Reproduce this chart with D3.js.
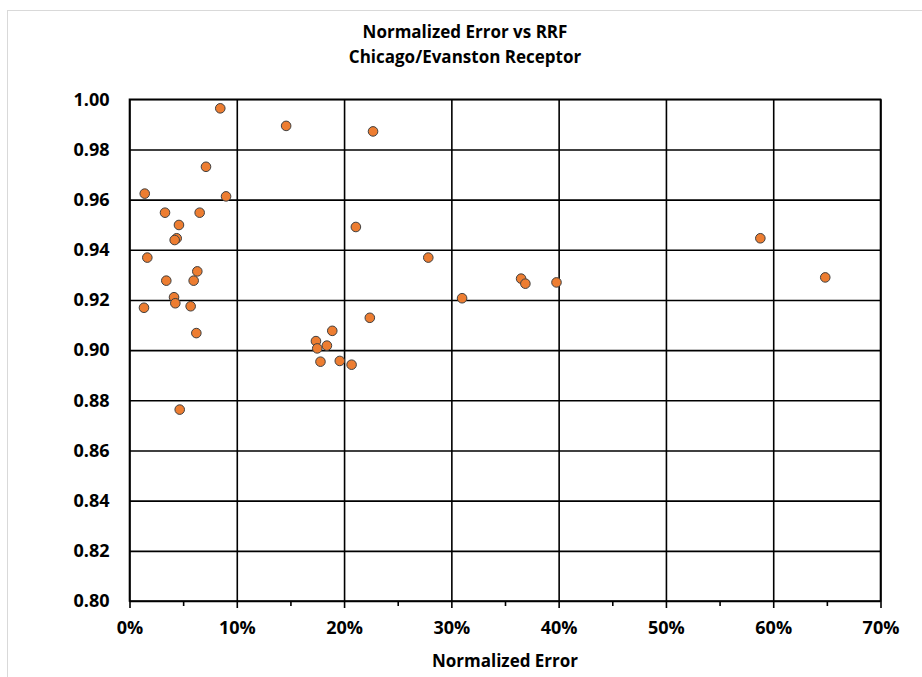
<!DOCTYPE html>
<html>
<head>
<meta charset="utf-8">
<script src="https://cdn.jsdelivr.net/npm/d3@7"></script>
<style>
  body { margin: 0; background: #fff; }
  text { font-family: "Open Sans", "Noto Sans", sans-serif; font-weight: bold; fill: #000; }
</style>
</head>
<body>
<svg id="chart" width="922" height="677"></svg>
<script>
// normalized error (fraction) and RRF for each monitor day
var normError = [0.0846, 0.146, 0.227, 0.0713, 0.0142, 0.090, 0.0331, 0.0654, 0.0461, 0.044,
  0.0421, 0.211, 0.0166, 0.0632, 0.0343, 0.0598, 0.0415, 0.0427, 0.0135, 0.0570,
  0.0623, 0.224, 0.189, 0.1738, 0.184, 0.175, 0.178, 0.196, 0.207, 0.0468,
  0.2785, 0.365, 0.369, 0.398, 0.310, 0.588, 0.6485];
var rrf = [0.9964, 0.9894, 0.9872, 0.9731, 0.9624, 0.9613, 0.9548, 0.9548, 0.9499, 0.9446,
  0.9439, 0.9491, 0.9369, 0.9314, 0.9277, 0.9277, 0.9211, 0.9187, 0.9169, 0.9175,
  0.9068, 0.9129, 0.9077, 0.9036, 0.9018, 0.9007, 0.8954, 0.8957, 0.8942, 0.8763,
  0.9369, 0.9285, 0.9265, 0.9270, 0.9207, 0.9446, 0.9290];
var xTicks = [0, 0.1, 0.2, 0.3, 0.4, 0.5, 0.6, 0.7];
var xMinorTicks = [0.05, 0.15, 0.25, 0.35, 0.45, 0.55, 0.65];
var yTicks = [0.80, 0.82, 0.84, 0.86, 0.88, 0.90, 0.92, 0.94, 0.96, 0.98, 1.00];
var titleLines = ["Normalized Error vs RRF", "Chicago/Evanston Receptor"];

var svg = d3.select("#chart"),
  width = +svg.attr("width"),
  height = +svg.attr("height"),
  margin = { top: 99.3, right: 41.5, bottom: 76, left: 129.5 },
  plotW = width - margin.left - margin.right,
  plotH = height - margin.top - margin.bottom;

// chart area border (light grey, cut by the picture edge)
svg.append("rect")
  .attr("x", 7.5).attr("y", 10.5)
  .attr("width", 930).attr("height", 700)
  .attr("fill", "none")
  .attr("stroke", "#d9d9d9");

svg.selectAll("text.title")
  .data(titleLines)
  .enter().append("text")
  .attr("class", "title")
  .attr("x", 465)
  .attr("y", function (d, i) { return 38 + i * 25; })
  .attr("text-anchor", "middle")
  .style("font-size", "17px")
  .text(function (d) { return d; });

var x = d3.scaleLinear().domain([0, 0.7]).range([0, plotW]);
var y = d3.scaleLinear().domain([0.8, 1.0]).range([plotH, 0]);

var g = svg.append("g")
  .attr("transform", "translate(" + margin.left + "," + margin.top + ")");

// horizontal gridlines
g.append("g")
  .attr("class", "grid")
  .call(d3.axisLeft(y).tickValues(yTicks).tickSize(-plotW).tickFormat(""))
  .call(function (s) { s.select(".domain").remove(); })
  .selectAll("line").attr("stroke", "#000").attr("stroke-width", 1.6);

// vertical gridlines
g.append("g")
  .attr("class", "grid")
  .call(d3.axisBottom(x).tickValues(xTicks).tickSize(plotH).tickFormat(""))
  .call(function (s) { s.select(".domain").remove(); })
  .selectAll("line").attr("stroke", "#000").attr("stroke-width", 1.6);

// x axis: major ticks with labels, minor ticks
var xAxis = g.append("g")
  .attr("transform", "translate(0," + plotH + ")")
  .call(d3.axisBottom(x).tickValues(xTicks).tickSize(7).tickPadding(13)
    .tickFormat(d3.format(".0%")));
xAxis.select(".domain").remove();
xAxis.selectAll("line").attr("stroke", "#000").attr("stroke-width", 1.6);
xAxis.selectAll("text").style("font-size", "18px").attr("fill", "#000");

g.append("g")
  .attr("transform", "translate(0," + plotH + ")")
  .call(d3.axisBottom(x).tickValues(xMinorTicks).tickSize(5).tickFormat(""))
  .call(function (s) { s.select(".domain").remove(); })
  .selectAll("line").attr("stroke", "#000").attr("stroke-width", 1.6);

// y axis labels (no tick marks)
var yAxis = g.append("g")
  .call(d3.axisLeft(y).tickValues(yTicks).tickSize(0).tickPadding(20)
    .tickFormat(d3.format(".2f")));
yAxis.select(".domain").remove();
yAxis.selectAll("text").style("font-size", "18px").attr("fill", "#000");

// plot frame
g.append("rect")
  .attr("width", plotW).attr("height", plotH)
  .attr("fill", "none")
  .attr("stroke", "#000")
  .attr("stroke-width", 1.6);

g.append("text")
  .attr("x", plotW / 2)
  .attr("y", plotH + 66)
  .attr("text-anchor", "middle")
  .style("font-size", "17px")
  .text("Normalized Error");

g.selectAll("circle.dot")
  .data(normError)
  .enter().append("circle")
  .attr("class", "dot")
  .attr("cx", function (d) { return x(d); })
  .attr("cy", function (d, i) { return y(rrf[i]); })
  .attr("r", 4.8)
  .attr("fill", "#ED7D31")
  .attr("stroke", "#404040")
  .attr("stroke-width", 1);
</script>
</body>
</html>
